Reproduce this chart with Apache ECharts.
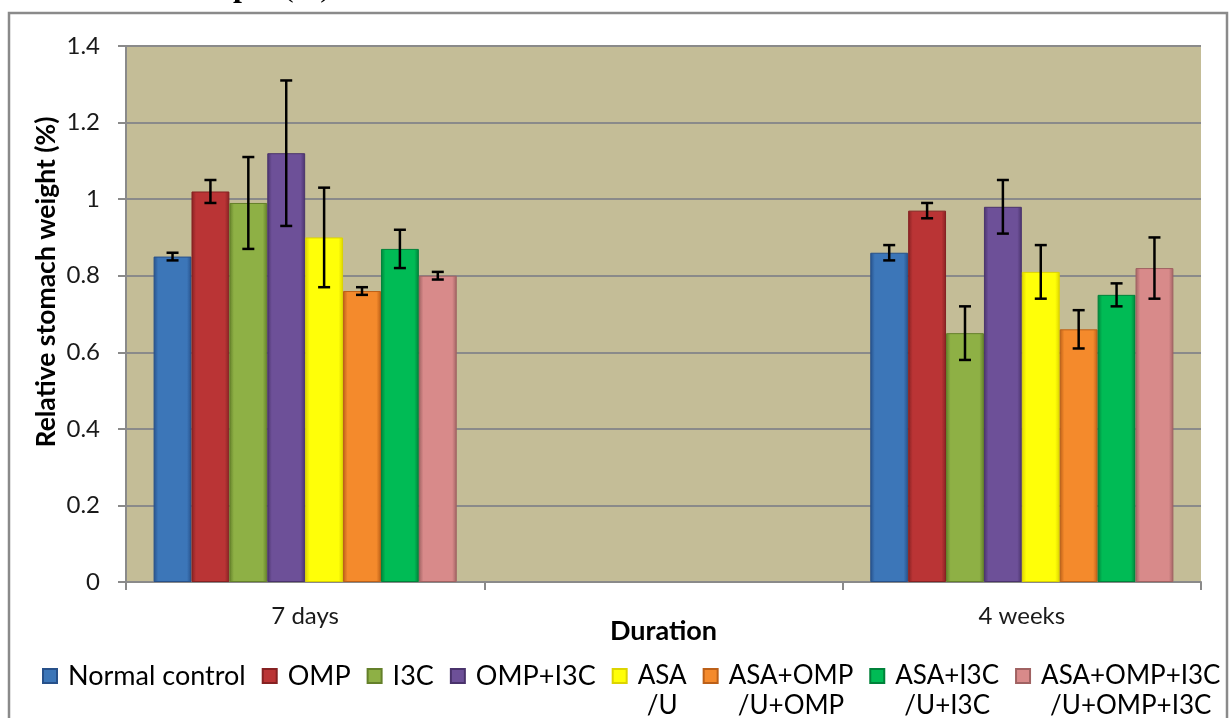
<!DOCTYPE html>
<html><head><meta charset="utf-8">
<script src="https://cdn.jsdelivr.net/npm/echarts@6/dist/echarts.min.js"></script>
<style>html,body{margin:0;padding:0;background:#fff}#c{width:1229px;height:718px}</style>
</head><body><div id="c"></div>
<script>
const categories = ['7 days', '', '4 weeks'];
const seriesNames = ['Normal control', 'OMP', 'I3C', 'OMP+I3C', 'ASA\n/U', 'ASA+OMP\n/U+OMP', 'ASA+I3C\n/U+I3C', 'ASA+OMP+I3C\n/U+OMP+I3C'];
const normalControl = [0.85, null, 0.86];
const omp = [1.02, null, 0.97];
const i3c = [0.99, null, 0.65];
const ompI3c = [1.12, null, 0.98];
const asaU = [0.90, null, 0.81];
const asaOmp = [0.76, null, 0.66];
const asaI3c = [0.87, null, 0.75];
const asaOmpI3c = [0.80, null, 0.82];
const errNormalControl = [0.01, null, 0.02];
const errOmp = [0.03, null, 0.02];
const errI3c = [0.12, null, 0.07];
const errOmpI3c = [0.19, null, 0.07];
const errAsaU = [0.13, null, 0.07];
const errAsaOmp = [0.01, null, 0.05];
const errAsaI3c = [0.05, null, 0.03];
const errAsaOmpI3c = [0.01, null, 0.08];
const yTicks = [0, 0.2, 0.4, 0.6, 0.8, 1, 1.2, 1.4];

const values = [normalControl, omp, i3c, ompI3c, asaU, asaOmp, asaI3c, asaOmpI3c];
const errors = [errNormalControl, errOmp, errI3c, errOmpI3c, errAsaU, errAsaOmp, errAsaI3c, errAsaOmpI3c];
const colors = [
  ['#27518A', '#3C76B8'], ['#862122', '#BA3435'], ['#64802A', '#8EB045'], ['#4A336C', '#6D5098'],
  ['#DCD400', '#FFFF08'], ['#BC6018', '#F48A2C'], ['#00823A', '#00BB55'], ['#A06262', '#D88A8A']
];
const FONT = 'Lato';
const GAP = 0.154;

function grad(c) {
  return new echarts.graphic.LinearGradient(0, 0, 1, 0, [
    {offset: 0, color: c[0]}, {offset: 0.12, color: c[1]}, {offset: 0.88, color: c[1]}, {offset: 1, color: c[0]}
  ]);
}

const errData = [];
values.forEach((arr, si) => arr.forEach((v, ci) => {
  if (v != null) errData.push([ci, si, v - errors[si][ci], v + errors[si][ci]]);
}));

const series = values.map((arr, i) => ({
  name: seriesNames[i], type: 'bar', data: arr,
  barGap: '0%', barCategoryGap: (GAP * 100) + '%',
  itemStyle: {color: grad(colors[i]), borderColor: colors[i][0], borderWidth: 1},
  emphasis: {disabled: true}
}));
series.push({
  type: 'custom', name: 'err', data: errData, z: 10,
  encode: {x: 0, y: [2, 3]},
  renderItem(params, api) {
    const ci = api.value(0), si = api.value(1), lo = api.value(2), hi = api.value(3);
    const pLo = api.coord([ci, lo]), pHi = api.coord([ci, hi]);
    const catW = api.size([1, 0])[0];
    const bw = catW * (1 - GAP) / 8;
    const x = pLo[0] + (si - 3.5) * bw;
    const cap = 6, st = {stroke: '#000', lineWidth: 2.5};
    return {type: 'group', children: [
      {type: 'line', shape: {x1: x, y1: pHi[1], x2: x, y2: pLo[1]}, style: st},
      {type: 'line', shape: {x1: x - cap, y1: pHi[1], x2: x + cap, y2: pHi[1]}, style: st},
      {type: 'line', shape: {x1: x - cap, y1: pLo[1], x2: x + cap, y2: pLo[1]}, style: st}
    ]};
  }
});

const chart = echarts.init(document.getElementById('c'));
chart.setOption({
  animation: false,
  backgroundColor: '#fff',
  grid: {left: 126, right: 28, top: 46, bottom: 136, show: true, backgroundColor: '#C4BD97', borderWidth: 0},
  graphic: [
    {type: 'rect', shape: {x: 9, y: 13, width: 1218, height: 720}, style: {fill: 'none', stroke: '#8A8A8A', lineWidth: 2.5}, z: -1},
    {type: 'text', x: 233, y: -12, style: {text: 'p', font: 'bold 32px "Liberation Serif"', fill: '#000', verticalAlign: 'middle'}},
    {type: 'text', x: 283, y: -12, style: {text: '(%)', font: '32px "Liberation Serif"', fill: '#000', verticalAlign: 'middle'}}
  ],
  legend: {
    left: 37, top: 628, right: 0, itemWidth: 14, itemHeight: 14, itemGap: 16, icon: 'rect', selectedMode: false,
    data: seriesNames,
    textStyle: {fontFamily: FONT, fontSize: 27, color: '#000', padding: [0, 0, 0, 6],
      rich: {e: {fontFamily: FONT, fontSize: 26, lineHeight: 30}, c: {fontFamily: FONT, fontSize: 26, lineHeight: 30, align: 'center'}}},
    formatter(name) {
      const parts = name.split('\n');
      if (parts.length === 1) return name;
      return '{e| }\n' + parts.map(p => '{c|' + p + '}').join('\n');
    }
  },
  xAxis: {
    type: 'category', data: categories,
    name: 'Duration', nameLocation: 'middle', nameGap: 36, nameMoveOverlap: false,
    nameTextStyle: {fontFamily: FONT, fontSize: 27, fontWeight: 'bold', color: '#000'},
    axisLine: {lineStyle: {color: '#8A8A8A', width: 2}},
    axisTick: {show: true, length: 8, interval: 0, lineStyle: {color: '#8A8A8A', width: 2}},
    axisLabel: {fontFamily: FONT, fontSize: 24, color: '#1a1a1a', margin: 22, interval: 0}
  },
  yAxis: {
    type: 'value', min: 0, max: 1.4, interval: 0.2,
    name: 'Relative stomach weight (%)', nameLocation: 'middle', nameGap: 66, nameMoveOverlap: false,
    nameTextStyle: {fontFamily: FONT, fontSize: 26.5, fontWeight: 'bold', color: '#000', padding: [0, 0, 0, 64]},
    axisLine: {show: true, lineStyle: {color: '#8A8A8A', width: 2}},
    axisTick: {show: true, length: 8, lineStyle: {color: '#8A8A8A', width: 2}},
    splitLine: {lineStyle: {color: '#8A8A8A', width: 2}},
    axisLabel: {fontFamily: FONT, fontSize: 24, color: '#1a1a1a', margin: 26,
      formatter: v => { const t = yTicks.find(x => Math.abs(x - v) < 1e-9); return t == null ? '' : String(t); }}
  },
  series
});
</script></body></html>
